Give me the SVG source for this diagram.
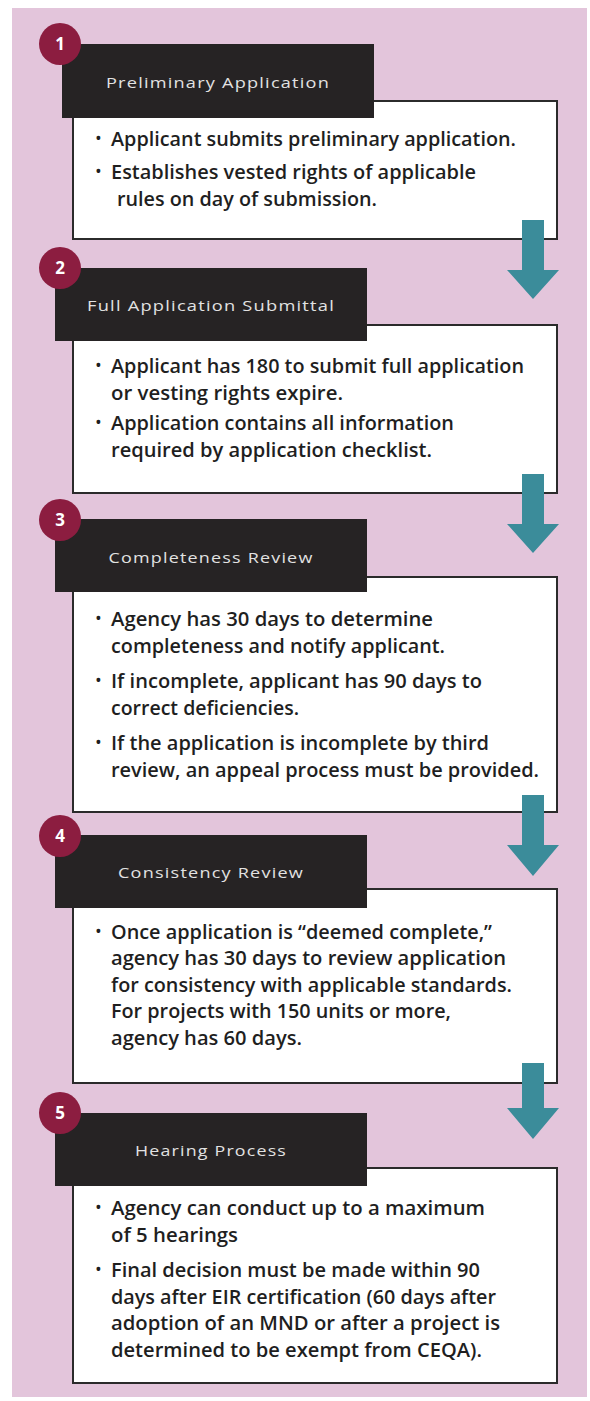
<svg xmlns="http://www.w3.org/2000/svg" width="590" height="1401" viewBox="0 0 590 1401">
  <style>
    .panel { fill: #e3c5db; }
    .badge { fill: #8c1d40; }
    .badge-num { font-family: "Open Sans", "Liberation Sans", sans-serif; font-weight: 700; font-size: 17px; fill: #ffffff; text-anchor: middle; }
    .head { fill: #262324; }
    .head-text { font-family: "Open Sans", "Liberation Sans", sans-serif; font-size: 15px; fill: #e2e2e2; text-anchor: middle; letter-spacing: 1px; }
    .card { fill: #ffffff; stroke: #2b2b2b; stroke-width: 2; }
    .body { font-family: "Open Sans", "Liberation Sans", sans-serif; font-weight: 600; font-size: 20px; fill: #1f1f1f; }
    .bullet { font-family: "Open Sans", "Liberation Sans", sans-serif; font-size: 18px; fill: #1f1f1f; }
    .arrow { fill: #3b8c9a; }
  </style>

  <rect x="0" y="0" width="590" height="1401" fill="#ffffff"/>
  <rect class="panel" x="12" y="8" width="575" height="1389"/>

  <!-- Step 1 -->
  <g id="step1">
    <rect class="card" x="73" y="101" width="484" height="138"/>
    <rect class="head" x="62" y="44" width="312" height="74"/>
    <text class="head-text" x="218" y="88" textLength="224" lengthAdjust="spacingAndGlyphs">Preliminary Application</text>
    <circle class="badge" cx="60" cy="44" r="21"/>
    <text class="badge-num" x="60" y="50">1</text>
    <text class="bullet" x="95" y="145">•</text>
    <text class="body" x="111" y="146" textLength="405" lengthAdjust="spacingAndGlyphs">Applicant submits preliminary application.</text>
    <text class="bullet" x="95" y="178">•</text>
    <text class="body" x="111" y="179" textLength="365" lengthAdjust="spacingAndGlyphs">Establishes vested rights of applicable</text>
    <text class="body" x="117" y="206" textLength="260" lengthAdjust="spacingAndGlyphs">rules on day of submission.</text>
  </g>

  <!-- Step 2 -->
  <g id="step2">
    <rect class="card" x="73" y="325" width="484" height="168"/>
    <rect class="head" x="55" y="268" width="312" height="73"/>
    <text class="head-text" x="211" y="311" textLength="248" lengthAdjust="spacingAndGlyphs">Full Application Submittal</text>
    <circle class="badge" cx="60" cy="268" r="21"/>
    <text class="badge-num" x="60" y="274">2</text>
    <text class="bullet" x="95" y="372">•</text>
    <text class="body" x="111" y="373" textLength="413" lengthAdjust="spacingAndGlyphs">Applicant has 180 to submit full application</text>
    <text class="body" x="111" y="400" textLength="232" lengthAdjust="spacingAndGlyphs">or vesting rights expire.</text>
    <text class="bullet" x="95" y="429">•</text>
    <text class="body" x="111" y="430" textLength="343" lengthAdjust="spacingAndGlyphs">Application contains all information</text>
    <text class="body" x="111" y="457" textLength="321" lengthAdjust="spacingAndGlyphs">required by application checklist.</text>
  </g>

  <!-- Step 3 -->
  <g id="step3">
    <rect class="card" x="73" y="577" width="484" height="235"/>
    <rect class="head" x="55" y="519" width="312" height="73"/>
    <text class="head-text" x="211" y="563" textLength="205" lengthAdjust="spacingAndGlyphs">Completeness Review</text>
    <circle class="badge" cx="60" cy="520" r="21"/>
    <text class="badge-num" x="60" y="526">3</text>
    <text class="bullet" x="95" y="625">•</text>
    <text class="body" x="111" y="626" textLength="322" lengthAdjust="spacingAndGlyphs">Agency has 30 days to determine</text>
    <text class="body" x="111" y="653" textLength="334" lengthAdjust="spacingAndGlyphs">completeness and notify applicant.</text>
    <text class="bullet" x="95" y="687">•</text>
    <text class="body" x="111" y="688" textLength="371" lengthAdjust="spacingAndGlyphs">If incomplete, applicant has 90 days to</text>
    <text class="body" x="111" y="715" textLength="188" lengthAdjust="spacingAndGlyphs">correct deficiencies.</text>
    <text class="bullet" x="95" y="749">•</text>
    <text class="body" x="111" y="750" textLength="378" lengthAdjust="spacingAndGlyphs">If the application is incomplete by third</text>
    <text class="body" x="111" y="777" textLength="428" lengthAdjust="spacingAndGlyphs">review, an appeal process must be provided.</text>
  </g>

  <!-- Step 4 -->
  <g id="step4">
    <rect class="card" x="73" y="889" width="484" height="194"/>
    <rect class="head" x="55" y="835" width="312" height="73"/>
    <text class="head-text" x="211" y="878" textLength="186" lengthAdjust="spacingAndGlyphs">Consistency Review</text>
    <circle class="badge" cx="60" cy="836" r="21"/>
    <text class="badge-num" x="60" y="842">4</text>
    <text class="bullet" x="95" y="938">•</text>
    <text class="body" x="111" y="939" textLength="381" lengthAdjust="spacingAndGlyphs">Once application is “deemed complete,”</text>
    <text class="body" x="111" y="965" textLength="395" lengthAdjust="spacingAndGlyphs">agency has 30 days to review application</text>
    <text class="body" x="111" y="992" textLength="401" lengthAdjust="spacingAndGlyphs">for consistency with applicable standards.</text>
    <text class="body" x="111" y="1018" textLength="340" lengthAdjust="spacingAndGlyphs">For projects with 150 units or more,</text>
    <text class="body" x="111" y="1045" textLength="191" lengthAdjust="spacingAndGlyphs">agency has 60 days.</text>
  </g>

  <!-- Step 5 -->
  <g id="step5">
    <rect class="card" x="73" y="1168" width="484" height="215"/>
    <rect class="head" x="55" y="1113" width="312" height="73"/>
    <text class="head-text" x="211" y="1156" textLength="152" lengthAdjust="spacingAndGlyphs">Hearing Process</text>
    <circle class="badge" cx="60" cy="1113" r="21"/>
    <text class="badge-num" x="60" y="1119">5</text>
    <text class="bullet" x="95" y="1214">•</text>
    <text class="body" x="111" y="1215" textLength="374" lengthAdjust="spacingAndGlyphs">Agency can conduct up to a maximum</text>
    <text class="body" x="111" y="1242" textLength="127" lengthAdjust="spacingAndGlyphs">of 5 hearings</text>
    <text class="bullet" x="95" y="1276">•</text>
    <text class="body" x="111" y="1277" textLength="369" lengthAdjust="spacingAndGlyphs">Final decision must be made within 90</text>
    <text class="body" x="111" y="1304" textLength="385" lengthAdjust="spacingAndGlyphs">days after EIR certification (60 days after</text>
    <text class="body" x="111" y="1330" textLength="389" lengthAdjust="spacingAndGlyphs">adoption of an MND or after a project is</text>
    <text class="body" x="111" y="1357" textLength="371" lengthAdjust="spacingAndGlyphs">determined to be exempt from CEQA).</text>
  </g>

  <!-- Down arrows between steps -->
  <g id="connectors">
    <path class="arrow" d="M522 220 H544 V270 H559 L533 299 L507 270 H522 Z"/>
    <path class="arrow" d="M522 474 H544 V524 H559 L533 553 L507 524 H522 Z"/>
    <path class="arrow" d="M522 795 H544 V845 H559 L533 876 L507 845 H522 Z"/>
    <path class="arrow" d="M522 1063 H544 V1108 H559 L533 1139 L507 1108 H522 Z"/>
  </g>
</svg>
